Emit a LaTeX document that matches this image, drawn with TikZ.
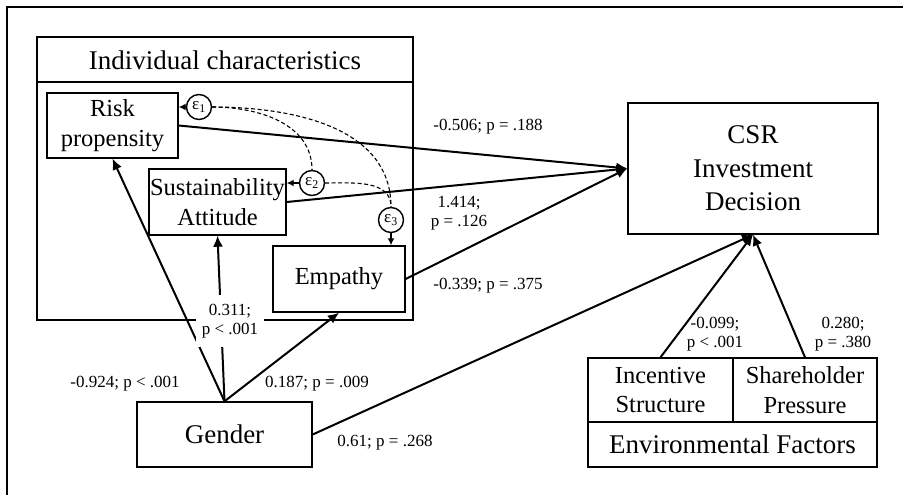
\documentclass[tikz,border=0pt]{standalone}
\usepackage{fontspec}
\setmainfont{Liberation Serif}
\usetikzlibrary{arrows.meta,calc}
\begin{document}
\begin{tikzpicture}[x=1pt,y=-1pt,
  box/.style={draw,line width=1.4pt,rectangle,inner sep=0pt,align=center,font=\fontsize{24.5}{29.5}\selectfont},
  bigbox/.style={box,font=\fontsize{27}{33.5}\selectfont},
  arr/.style={line width=2pt,-{Latex[length=11pt,width=10pt]}},
  sarr/.style={line width=1.4pt,-{Latex[length=7pt,width=7pt]}},
  cov/.style={line width=1.1pt,dash pattern=on 4pt off 2.5pt},
  eps/.style={draw,circle,line width=1.4pt,minimum size=25pt,inner sep=0pt,font=\fontsize{17}{17}\selectfont},
  lab/.style={align=center,font=\fontsize{17}{19.5}\selectfont,inner sep=1pt}]
\useasboundingbox (0,0) rectangle (903,495);
% outer frame (top and left only)
\draw[line width=1.5pt] (7,495) -- (7,7) -- (903,7);
% Individual characteristics frame
\node[draw,line width=1.4pt,minimum width=376pt,minimum height=283pt,inner sep=0pt] (ic) at (225,178.5) {};
\draw[line width=1.4pt] (37,82) -- (413,82);
\node[font=\fontsize{27}{33}\selectfont] (ictitle) at (225,60) {Individual characteristics};
% inner boxes
\node[box,minimum width=131pt,minimum height=65pt] (risk) at (112.5,125.5) {Risk\\propensity};
\node[box,minimum width=137pt,minimum height=66pt] (sust) at (217.5,202) {Sustainability\\Attitude};
\node[box,minimum width=132pt,minimum height=66pt] (emp) at (339,279) {Empathy};
\node[bigbox,minimum width=175pt,minimum height=65pt] (gender) at (224.5,434.5) {Gender};
\node[bigbox,minimum width=250pt,minimum height=131pt] (csr) at (753,168.5) {CSR\\Investment\\Decision};
\node[box,minimum width=145pt,minimum height=64pt] (inc) at (660.5,390) {Incentive\\Structure};
\node[box,minimum width=144pt,minimum height=64pt] (share) at (805,390) {Shareholder\\Pressure};
\node[bigbox,minimum width=289pt,minimum height=45pt] (env) at (732.5,444.5) {Environmental Factors};
% error terms
\node[eps] (e1) at (199,107) {ε\textsubscript{1}};
\node[eps] (e2) at (312,183) {ε\textsubscript{2}};
\node[eps] (e3) at (391,220) {ε\textsubscript{3}};
\draw[sarr] (e1.west) -- (e1.west -| risk.east);
\draw[sarr] (e2.west) -- (e2.west -| sust.east);
\draw[sarr] (e3.south) -- (e3.south |- emp.north);
\draw[cov] (e1.east) to[out=0,in=90] (e2.north);
\draw[cov] (e1.east) to[out=0,in=90] (e3.north);
\draw[cov] (e2.east) to[out=0,in=90] (e3.north);
% paths to CSR
\draw[arr] (risk.east) -- (csr.west);
\draw[arr] (sust.east) -- (csr.west);
\draw[arr] (emp.east) -- (csr.west);
\draw[arr] (gender.east) -- (csr.south);
\draw[arr] (inc.north) -- (csr.south);
\draw[arr] (share.north) -- (csr.south);
% gender paths
\draw[arr] (gender.north) -- (risk.south);
\draw[arr] (gender.north) -- (sust.south);
\draw[arr] (gender.north) -- (emp.south);
% labels
\node[lab] (l1) at (488,127) {-0.506; p = .188};
\node[lab] (l2) at (459,213) {1.414;\\p = .126};
\node[lab] (l3) at (488,286) {-0.339; p = .375};
\node[lab] (l4) at (715,334) {-0.099;\\p < .001};
\node[lab] (l5) at (843,334) {0.280;\\p = .380};
\node[lab,fill=white,inner xsep=6pt,inner ysep=9pt] (l6) at (230,321) {0.311;\\p < .001};
\node[lab] (l7) at (125,384) {-0.924; p < .001};
\node[lab] (l8) at (317,384) {0.187; p = .009};
\node[lab] (l9) at (385,443) {0.61; p = .268};
\end{tikzpicture}
\end{document}
